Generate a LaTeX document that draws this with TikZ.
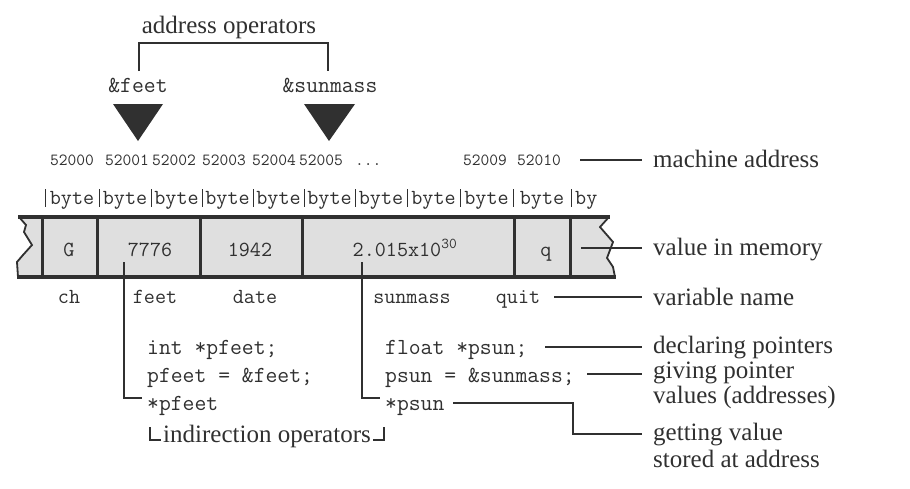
\documentclass[tikz,border=0pt]{standalone}
\usepackage{fontspec}
\setmainfont{Liberation Serif}
\definecolor{ink}{HTML}{303030}
\definecolor{cellgray}{HTML}{DFDFDF}
\begin{document}
\begin{tikzpicture}[x=1pt,y=-1pt]
	\tikzstyle{lbl}=[font=\fontsize{25}{27}\selectfont,text=ink,anchor=base west,inner xsep=11pt,inner ysep=0pt]
	\tikzstyle{code}=[font=\ttfamily\fontsize{23}{26}\selectfont,text=ink,anchor=base west,inner sep=0pt]
	\tikzstyle{cell}=[font=\ttfamily\fontsize{21.5}{24}\selectfont,text=ink,anchor=base,inner sep=0pt]
	\tikzstyle{addr}=[font=\ttfamily\fontsize{17}{19}\selectfont,text=ink,anchor=base west,inner sep=0pt]
	\tikzstyle{edge}=[draw=ink,line width=1.2pt]
	\tikzstyle{wall}=[draw=ink,line width=3pt]
	\tikzstyle{bar}=[draw=ink,line width=0.7pt]

	\useasboundingbox (0,0) rectangle (910,488);

	% address operators
	\node [lbl, anchor=base, inner xsep=0pt] (aop) at (229,33) {address operators};
	\node [code, anchor=base] (afeet) at (138,92) {\&feet};
	\node [code, anchor=base] (asun) at (330,92) {\&sunmass};
	\coordinate (bfeet) at (139,71);
	\coordinate (bsun) at (328,71);
	\draw[edge] (bfeet) -- ++(0,-28) -| (bsun);
	\fill[ink] (113,104) -- (163,104) -- (138,141) -- cycle;
	\fill[ink] (304,104) -- (355,104) -- (329,141) -- cycle;

	% machine addresses
	\foreach \x/\a [count=\i] in {50/52000,105/52001,152/52002,202/52003,252/52004,299/52005,463/52009,517/52010}
		\node [addr] (a\i) at (\x,165) {\a};
	\node [addr] (adots) at (355,165) {...};

	% bytes
	\foreach \x in {45,99,151,202,253,304,355,407,460,513,571}
		\draw[bar] (\x,189) -- (\x,207);
	\foreach \x [count=\i] in {72,125,176.5,227.5,278.5,329.5,381,433.5,486.5,542}
		\node [cell] (b\i) at (\x,204) {byte};
	\node [cell, anchor=base west] (b11) at (575,204) {by};

	% memory strip
	\fill[cellgray] (19,217) -- (609,217) -- (600,227) -- (613,242) -- (607,258) -- (613,267) -- (615,277)
		-- (18,277) -- (17,262) -- (23,255) -- (32,245) -- (24,232) -- (26,225) -- cycle;
	\draw[edge, line width=1.8pt] (19,217) -- (26,225) -- (24,232) -- (32,245) -- (23,255) -- (17,262) -- (18,277);
	\draw[edge, line width=1.8pt] (609,217) -- (600,227) -- (613,242) -- (607,258) -- (613,267) -- (615,277);
	\draw[wall, line width=3.5pt] (18,217) -- (610,217);
	\draw[wall, line width=3.5pt] (17,277) -- (616,277);
	\foreach \x in {42,97,200.5,302.5,514,570}
		\draw[wall] (\x,217) -- (\x,277);

	% values
	\node [cell] (vch) at (69,256) {G};
	\node [cell] (vfeet) at (150,256) {7776};
	\node [cell] (vdate) at (250,256) {1942};
	\node [cell] (vsun) at (405,256) {2.015x10\textsuperscript{30}};
	\node [cell] (vquit) at (546,256) {q};

	% variable names
	\node [cell] (nch) at (69,303) {ch};
	\node [cell] (nfeet) at (155,303) {feet};
	\node [cell] (ndate) at (255,303) {date};
	\node [cell] (nsun) at (412,303) {sunmass};
	\node [cell] (nquit) at (518,303) {quit};

	% pointer code
	\node [code] (pf1) at (147,354) {int *pfeet;};
	\node [code] (pf2) at (147,382) {pfeet = \&feet;};
	\node [code] (pf3) at (147,410) {*pfeet};
	\node [code] (ps1) at (385,354) {float *psun;};
	\node [code] (ps2) at (385,382) {psun = \&sunmass;};
	\node [code] (ps3) at (385,410) {*psun};

	\node [lbl, inner xsep=13pt] (ind) at (150,442) {indirection operators};
	\draw[edge] ([yshift=15pt]ind.base west) -- ([yshift=2pt]ind.base west) -- ++(11,0);
	\draw[edge] ([yshift=15pt]ind.base east) -- ([yshift=2pt]ind.base east) -- ++(-11,0);

	\coordinate (feetptr) at (124,262);
	\coordinate (sunptr) at (362,262);
	\draw[edge] (feetptr) |- ([xshift=-5pt,yshift=12pt]pf3.base west);
	\draw[edge] (sunptr) |- ([xshift=-5pt,yshift=12pt]ps3.base west);

	% right labels
	\node [lbl] (mach) at (642,167) {machine address};
	\node [lbl] (mem) at (642,255) {value in memory};
	\node [lbl] (vname) at (642,305) {variable name};
	\node [lbl] (decl) at (642,353) {declaring pointers};
	\node [lbl] (give) at (642,378) {giving pointer};
	\node [lbl] (give2) at (642,403) {values (addresses)};
	\node [lbl] (getv) at (642,440) {getting value};
	\node [lbl] (getv2) at (642,467) {stored at address};

	\coordinate (machL) at (580,160);
	\coordinate (memL) at (581,248);
	\coordinate (vnameL) at (554,297);
	\coordinate (declL) at (545,347);
	\coordinate (giveL) at (587,374);
	\coordinate (getL) at (453,403);
	\draw[edge] (machL) -- (machL -| mach.west);
	\draw[edge] (memL) -- (memL -| mem.west);
	\draw[edge] (vnameL) -- (vnameL -| vname.west);
	\draw[edge] (declL) -- (declL -| decl.west);
	\draw[edge] (giveL) -- (giveL -| give.west);
	\draw[edge] (getL) -- ++(120,0) |- (getv.west);
\end{tikzpicture}
\end{document}
